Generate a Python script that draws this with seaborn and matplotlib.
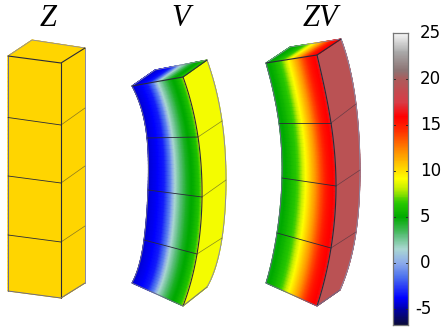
import numpy as np
import pandas as pd
import seaborn as sns
import matplotlib.pyplot as plt
from matplotlib.colors import LinearSegmentedColormap, Normalize
from matplotlib.transforms import ScaledTranslation

sns.set_theme(style="white")

# colour scale
scale_vals = [-6.7, -5.2, -3.8, -1.5, 0, 1.5, 3, 5, 6.5, 8.2, 9.2, 10, 12, 14.5, 16, 17.5, 20, 21, 23, 25]
scale_cols = ["#0a0a3c", "#0000a0", "#0000ff", "#4f74ee", "#8caaeb", "#aad7d2", "#5abe78", "#00aa00",
              "#28c800", "#c8f000", "#ffff00", "#ffe000", "#ff9600", "#ff2a00", "#ff0000", "#d83c46", "#ae5a5a",
              "#8c7474", "#aaaaaa", "#f5f5f5"]
scale_ticks = [-5, 0, 5, 10, 15, 20, 25]

# field values across the front face, left to right
across = [0, 0.15, 0.3, 0.42, 0.5, 0.6, 0.72, 0.85, 0.94, 1]
v_front = [-4.4, -3.9, -3.2, -1.0, 1.4, 2.8, 4.4, 5.3, 6.2, 7.5]
zv_front = [4.6, 5.6, 6.8, 8.8, 10.0, 11.6, 13.6, 15.4, 16.0, 16.5]
z_front = 10.3
z_side = 10.3
v_side = 9.0
zv_side = 19.3

# outlines, in picture pixels, top to bottom (x, y)
z_left = [(8, 56), (8, 117.5), (8, 176), (8, 235), (8, 291)]
z_edge = [(61, 63), (61, 125), (61, 183), (61, 242), (61, 298)]
z_back = [(85, 48), (85, 108), (85, 166), (85, 226), (85, 283)]
z_rear = (32, 40)

v_left = [(132, 86), (147, 138), (148, 190), (144, 240), (132, 283)]
v_edge = [(183, 77), (198, 137), (202, 197), (197, 254), (183, 306)]
v_back = [(207, 60), (222, 121), (226, 180), (222, 238), (207, 287)]
v_rear = (155, 70)

zv_left = [(266, 63), (279, 123), (282, 178), (277, 233), (266, 283)]
zv_edge = [(317, 55), (331, 123), (336, 186), (331, 248), (317, 306)]
zv_back = [(341, 39), (356, 104), (360, 170), (356, 232), (340, 290)]
zv_rear = (290, 47)

titles = ["Z", "V", "ZV"]
title_x = [48, 181, 320]

cmap = LinearSegmentedColormap.from_list(
    "bar", [((v - scale_vals[0]) / (scale_vals[-1] - scale_vals[0]), c) for v, c in zip(scale_vals, scale_cols)], N=512)
norm = Normalize(scale_vals[0], scale_vals[-1])


def smooth(pts, n=60):
    # runs a smooth curve through the stations of one edge
    pts = np.array(pts, dtype=float)
    t = np.linspace(0, 1, len(pts))
    tt = np.linspace(0, 1, n)
    return np.polyval(np.polyfit(t, pts[:, 0], 4), tt), np.polyval(np.polyfit(t, pts[:, 1], 4), tt)


def patch(ax, a, b, vals):
    # a, b are the left and right edge curves of one face
    ax_, ay_ = a
    bx_, by_ = b
    u = np.linspace(0, 1, 120)
    X = np.outer(ax_, 1 - u) + np.outer(bx_, u)
    Y = np.outer(ay_, 1 - u) + np.outer(by_, u)
    C = np.interp(u, across, vals) if np.ndim(vals) else np.full_like(u, vals)
    C = np.tile(C, (len(ax_), 1))
    ax.pcolormesh(X, Y, C, cmap=cmap, norm=norm, shading="gouraud", rasterized=True)


def block(ax, left, edge, back, rear, front_vals, side_val):
    L, E, B = smooth(left), smooth(edge), smooth(back)
    patch(ax, L, E, front_vals)
    patch(ax, E, B, side_val)
    # top face
    top_a = (np.linspace(left[0][0], rear[0], 20), np.linspace(left[0][1], rear[1], 20))
    top_b = (np.linspace(edge[0][0], back[0][0], 20), np.linspace(edge[0][1], back[0][1], 20))
    patch(ax, top_a, top_b, front_vals)

    dark = "#2a2a3a"
    # outer outline
    ax.plot(L[0], L[1], color="#6a6a8a", lw=0.7)
    ax.plot(B[0], B[1], color="#8a8aa6", lw=0.7)
    ax.plot(E[0], E[1], color=dark, lw=0.8)
    ax.plot([left[0][0], rear[0], back[0][0]], [left[0][1], rear[1], back[0][1]], color="#8a8aa6", lw=0.6)
    ax.plot([left[0][0], edge[0][0], back[0][0]], [left[0][1], edge[0][1], back[0][1]], color=dark, lw=0.8)
    ax.plot([left[-1][0], edge[-1][0], back[-1][0]], [left[-1][1], edge[-1][1], back[-1][1]], color="#6a6a8a", lw=0.7)
    # mesh lines between elements
    for i in range(1, 4):
        ax.plot([left[i][0], edge[i][0]], [left[i][1], edge[i][1]], color=dark, lw=0.6)
        ax.plot([edge[i][0], back[i][0]], [edge[i][1], back[i][1]], color=dark, lw=0.5, alpha=0.55)


fig = plt.figure(figsize=(4.47, 3.33), dpi=100)
ax = fig.add_axes([0, 0, 1, 1])
ax.set_xlim(0, 447)
ax.set_ylim(333, 0)
ax.axis("off")

block(ax, z_left, z_edge, z_back, z_rear, z_front, z_side)
block(ax, v_left, v_edge, v_back, v_rear, v_front, v_side)
block(ax, zv_left, zv_edge, zv_back, zv_rear, zv_front, zv_side)

for t, x in zip(titles, title_x):
    ax.text(x, 18, t, fontsize=22, family="Liberation Serif", style="italic", ha="center", va="center", color="black")

# colour bar as a one column heatmap
levels = np.linspace(scale_vals[-1], scale_vals[0], 300)
bar = pd.DataFrame({"v": levels})
cax = fig.add_axes([393 / 447, 1 - 325 / 333, 15 / 447, 292 / 333])
sns.heatmap(bar, ax=cax, cmap=cmap, norm=norm, cbar=False, xticklabels=False, yticklabels=False)
cax.set_xticks([])
cax.set_ylabel("")
pos = [(scale_vals[-1] - t) / (scale_vals[-1] - scale_vals[0]) * len(levels) for t in scale_ticks]
cax.yaxis.tick_right()
cax.set_yticks(pos)
cax.set_yticklabels([str(t) for t in scale_ticks], rotation=0, fontsize=12, family="DejaVu Sans", color="black")
cax.tick_params(axis="y", length=0, pad=8.5)
for lab, t in zip(cax.get_yticklabels(), scale_ticks):
    # labels sit a little above their ticks, the minus hangs out to the left
    dx = -5 if t < 0 else 0
    lab.set_transform(lab.get_transform() + ScaledTranslation(dx / 100, 2.5 / 100, fig.dpi_scale_trans))
for t, v in zip(pos, scale_ticks):
    if v == 25:
        continue
    cax.plot([0, 0.14], [t, t], color="#222222", lw=0.7, transform=cax.get_yaxis_transform())
    cax.plot([0.86, 1], [t, t], color="#222222", lw=0.7, transform=cax.get_yaxis_transform())
for s in cax.spines.values():
    s.set_visible(True)
    s.set_color("#777777")
    s.set_linewidth(0.9)

fig.savefig("out.png", dpi=100)
